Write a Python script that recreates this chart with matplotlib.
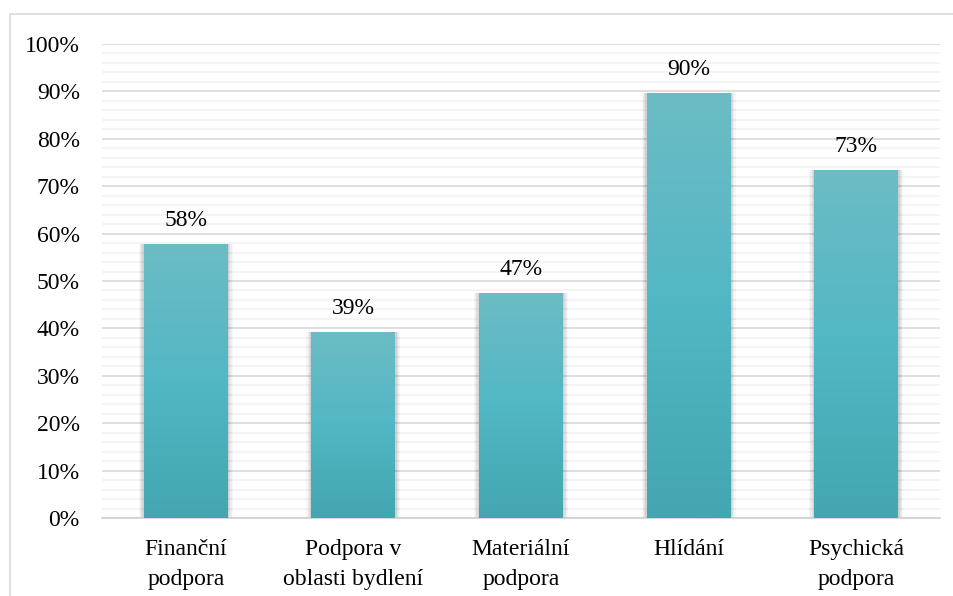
import numpy as np
import matplotlib
matplotlib.use("Agg")
import matplotlib.pyplot as plt
from matplotlib.patches import Rectangle
from matplotlib.colors import LinearSegmentedColormap
from matplotlib.ticker import MultipleLocator, PercentFormatter

# data
categories = ["Finanční\npodpora", "Podpora v\noblasti bydlení", "Materiální\npodpora",
              "Hlídání", "Psychická\npodpora"]
values = [0.577, 0.392, 0.474, 0.896, 0.734]
labels = ["58%", "39%", "47%", "90%", "73%"]

plt.rcParams['font.family'] = ['Liberation Serif', 'DejaVu Serif']
plt.rcParams['font.size'] = 17

fig = plt.figure(figsize=(9.54, 5.96), dpi=100)
ax = fig.add_axes([0.1069, 0.1309, 0.8784, 0.7953])

# outer chart frame
fig.patches.append(Rectangle((10 / 954, -0.1), 1.2, (596 - 14) / 596 + 0.1,
                             transform=fig.transFigure, fill=False,
                             edgecolor="#d9d9d9", lw=1.2, zorder=0))

x = np.arange(len(categories))
width = 0.5

cmap = LinearSegmentedColormap.from_list(
    "teal", ["#43a6b0", "#52b7c4", "#6cbcc5"])
grad = np.linspace(0, 1, 256).reshape(-1, 1)

for xi, v in zip(x, values):
    # soft shadow
    for k, a in enumerate([0.03, 0.04, 0.05, 0.06]):
        pad = 0.03 - k * 0.007
        ax.add_patch(Rectangle((xi - width / 2 - pad, 0), width + 2 * pad, v,
                               facecolor="black", alpha=a, lw=0, zorder=2))
    bar = Rectangle((xi - width / 2, 0), width, v, facecolor="none", lw=0, zorder=3)
    ax.add_patch(bar)
    im = ax.imshow(grad, cmap=cmap, aspect="auto", origin="lower",
                   extent=[xi - width / 2, xi + width / 2, 0, v], zorder=3)
    im.set_clip_path(bar)

for xi, v, lab in zip(x, values, labels):
    ax.text(xi, v + 0.028, lab, ha="center", va="bottom")

ax.set_xlim(-0.5, len(categories) - 0.5)
ax.set_ylim(0, 1.0)
ax.yaxis.set_major_locator(MultipleLocator(0.1))
ax.yaxis.set_minor_locator(MultipleLocator(0.02))
ax.yaxis.set_major_formatter(PercentFormatter(1.0, decimals=0))
ax.grid(which="major", axis="y", color="#d9d9d9", lw=1.2, zorder=0)
ax.grid(which="minor", axis="y", color="#f2f2f2", lw=1.2, zorder=0)
ax.set_axisbelow(True)

ax.set_xticks(x)
ax.set_xticklabels(categories, linespacing=1.55)
ax.tick_params(axis="x", length=0, pad=15)
ax.tick_params(axis="y", which="both", length=0, pad=16)

for s in ["top", "right", "left"]:
    ax.spines[s].set_visible(False)
ax.spines["bottom"].set_color("#d0d0d0")
ax.spines["bottom"].set_linewidth(1.2)

fig.savefig("out.png", dpi=100)
